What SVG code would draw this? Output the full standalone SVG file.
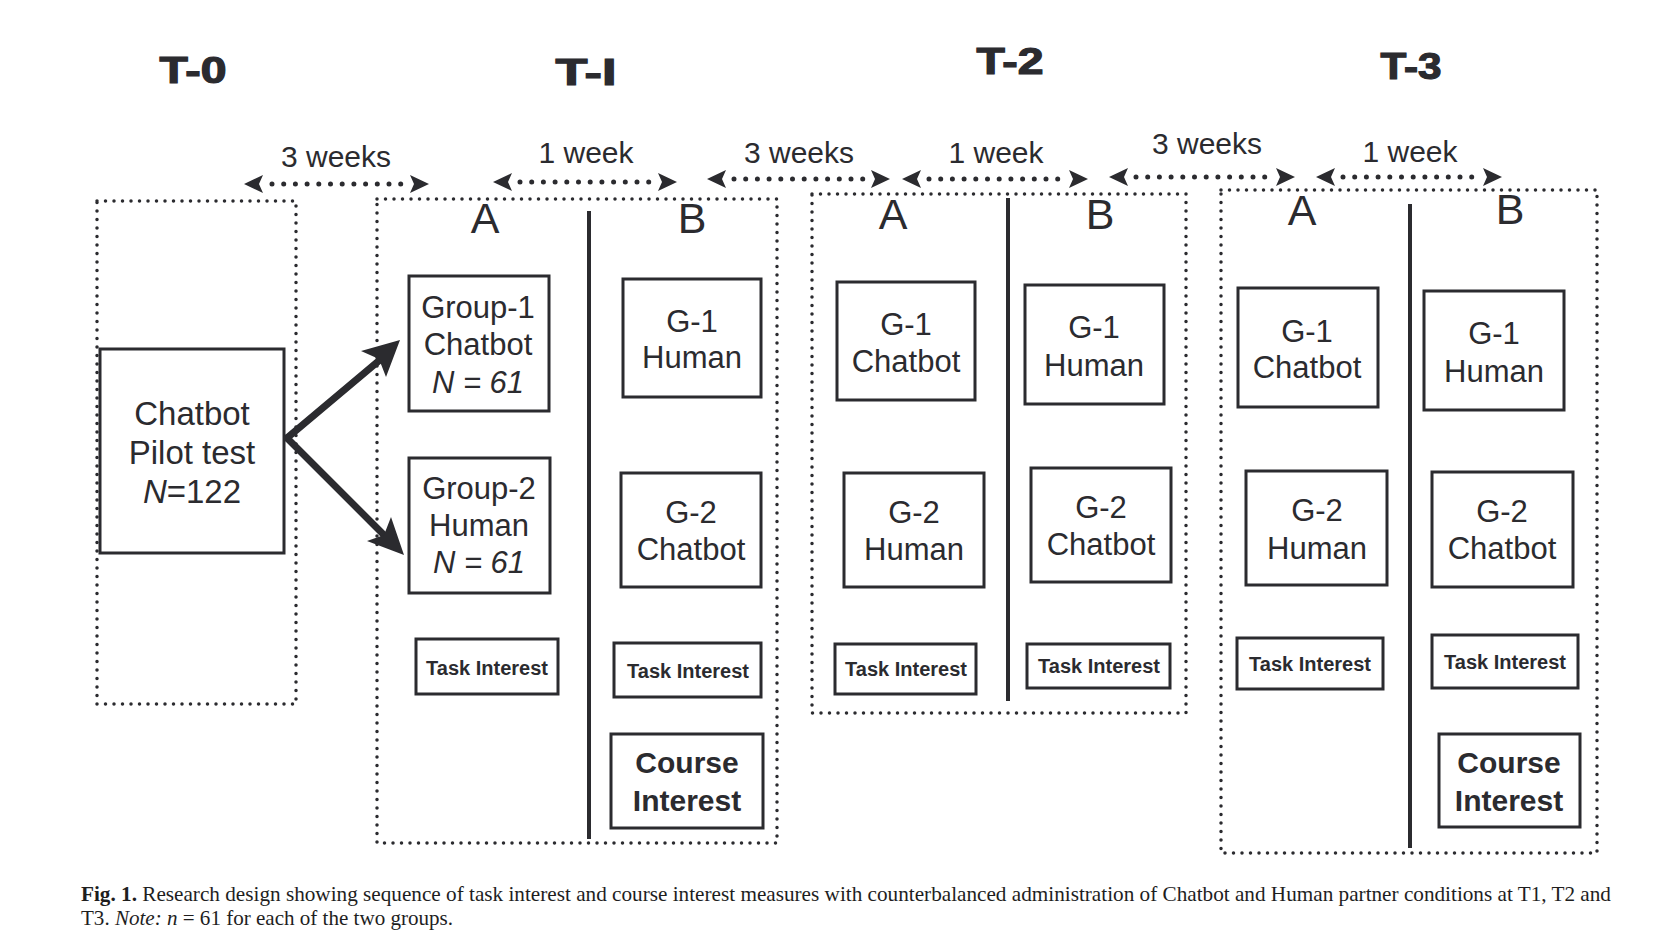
<svg xmlns="http://www.w3.org/2000/svg" xmlns:xlink="http://www.w3.org/1999/xlink" width="1666" height="932" viewBox="0 0 1666 932">
<style>
.box{fill:#fff;stroke:#2b2b2f;stroke-width:3}
.phase{fill:none;stroke:#2b2b2f;stroke-width:3.5;stroke-dasharray:0 8.5;stroke-linecap:round}
.dv{stroke:#2b2b2f;stroke-width:4}
.t{font-family:"Liberation Sans",Arial,sans-serif;fill:#2b2b2f;text-anchor:middle}
.lbl{font-size:31px}
.plt{font-size:33px}
.hdr{font-size:36px;font-weight:bold;stroke:#2b2b2f;stroke-width:1.2}
.ab{font-size:43px}
.wk{font-size:30px}
.ti{font-size:20px;font-weight:bold}
.ci{font-size:30px;font-weight:bold}
.dots{fill:none;stroke:#2b2b2f;stroke-width:5;stroke-dasharray:0 11.7;stroke-linecap:round}
.ah{fill:#2b2b2f}
.big{stroke:#2b2b2f;stroke-width:7;stroke-linecap:round;fill:none}
.cap{font-family:"Liberation Serif","Times New Roman",serif;font-size:21px;fill:#1e1e1e}
</style>
<defs>
<path id="hl" d="M0,0 L19,-9 L15,0 L19,9 Z"/>
<path id="hr" d="M0,0 L-19,-9 L-15,0 L-19,9 Z"/>
</defs>
<rect width="1666" height="932" fill="#fff"/>

<g id="headers">
<text class="t hdr" x="193" y="83" textLength="67" lengthAdjust="spacingAndGlyphs">T-0</text>
<text class="t hdr" x="586" y="85" textLength="61" lengthAdjust="spacingAndGlyphs">T-I</text>
<text class="t hdr" x="1010" y="74" textLength="67" lengthAdjust="spacingAndGlyphs">T-2</text>
<text class="t hdr" x="1411" y="79" textLength="61" lengthAdjust="spacingAndGlyphs">T-3</text>
</g>

<g id="phase-T0"><rect class="phase" x="97" y="201" width="199" height="503"/></g>
<g id="phase-T1">
<rect class="phase" x="377" y="199" width="400" height="644"/>
<line class="dv" x1="589" y1="211" x2="589" y2="839"/>
<text class="t ab" x="485" y="233">A</text>
<text class="t ab" x="692" y="233">B</text>
</g>
<g id="phase-T2">
<rect class="phase" x="812" y="194" width="374" height="519"/>
<line class="dv" x1="1008" y1="198" x2="1008" y2="701"/>
<text class="t ab" x="893" y="229">A</text>
<text class="t ab" x="1100" y="229">B</text>
</g>
<g id="phase-T3">
<rect class="phase" x="1221" y="190" width="376" height="663"/>
<line class="dv" x1="1410" y1="204" x2="1410" y2="848"/>
<text class="t ab" x="1302" y="225">A</text>
<text class="t ab" x="1510" y="224">B</text>
</g>

<g id="pilot">
<rect class="box" x="100" y="349" width="184" height="204"/>
<text class="t plt" x="192" y="425">Chatbot</text>
<text class="t plt" x="192" y="464">Pilot test</text>
<text class="t plt" x="192" y="503"><tspan font-style="italic">N</tspan>=122</text>
</g>

<g id="t1-group1">
<rect class="box" x="409" y="276" width="140" height="135"/>
<text class="t lbl" x="478" y="318">Group-1</text>
<text class="t lbl" x="478" y="355">Chatbot</text>
<text class="t lbl" x="478" y="393" font-style="italic">N = 61</text>
</g>
<g id="t1-group2">
<rect class="box" x="409" y="458" width="141" height="135"/>
<text class="t lbl" x="479" y="499">Group-2</text>
<text class="t lbl" x="479" y="536">Human</text>
<text class="t lbl" x="479" y="573" font-style="italic">N = 61</text>
</g>
<g id="t1-b-g1">
<rect class="box" x="623" y="279" width="138" height="118"/>
<text class="t lbl" x="692" y="332">G-1</text>
<text class="t lbl" x="692" y="368">Human</text>
</g>
<g id="t1-b-g2">
<rect class="box" x="621" y="473" width="140" height="114"/>
<text class="t lbl" x="691" y="523">G-2</text>
<text class="t lbl" x="691" y="560">Chatbot</text>
</g>
<g id="t1-a-task">
<rect class="box" x="416" y="639" width="142" height="55"/>
<text class="t ti" x="487" y="675">Task Interest</text>
</g>
<g id="t1-b-task">
<rect class="box" x="614" y="643" width="147" height="54"/>
<text class="t ti" x="688" y="678">Task Interest</text>
</g>
<g id="t1-b-course">
<rect class="box" x="611" y="734" width="152" height="94"/>
<text class="t ci" x="687" y="773">Course</text>
<text class="t ci" x="687" y="811">Interest</text>
</g>

<g id="t2-a-g1">
<rect class="box" x="837" y="282" width="138" height="118"/>
<text class="t lbl" x="906" y="335">G-1</text>
<text class="t lbl" x="906" y="372">Chatbot</text>
</g>
<g id="t2-b-g1">
<rect class="box" x="1025" y="285" width="139" height="119"/>
<text class="t lbl" x="1094" y="338">G-1</text>
<text class="t lbl" x="1094" y="376">Human</text>
</g>
<g id="t2-a-g2">
<rect class="box" x="844" y="473" width="140" height="114"/>
<text class="t lbl" x="914" y="523">G-2</text>
<text class="t lbl" x="914" y="560">Human</text>
</g>
<g id="t2-b-g2">
<rect class="box" x="1031" y="468" width="140" height="114"/>
<text class="t lbl" x="1101" y="518">G-2</text>
<text class="t lbl" x="1101" y="555">Chatbot</text>
</g>
<g id="t2-a-task">
<rect class="box" x="835" y="644" width="141" height="50"/>
<text class="t ti" x="906" y="676">Task Interest</text>
</g>
<g id="t2-b-task">
<rect class="box" x="1027" y="644" width="143" height="44"/>
<text class="t ti" x="1099" y="673">Task Interest</text>
</g>

<g id="t3-a-g1">
<rect class="box" x="1238" y="288" width="140" height="119"/>
<text class="t lbl" x="1307" y="342">G-1</text>
<text class="t lbl" x="1307" y="378">Chatbot</text>
</g>
<g id="t3-b-g1">
<rect class="box" x="1424" y="291" width="140" height="119"/>
<text class="t lbl" x="1494" y="344">G-1</text>
<text class="t lbl" x="1494" y="382">Human</text>
</g>
<g id="t3-a-g2">
<rect class="box" x="1246" y="471" width="141" height="114"/>
<text class="t lbl" x="1317" y="521">G-2</text>
<text class="t lbl" x="1317" y="559">Human</text>
</g>
<g id="t3-b-g2">
<rect class="box" x="1432" y="472" width="141" height="115"/>
<text class="t lbl" x="1502" y="522">G-2</text>
<text class="t lbl" x="1502" y="559">Chatbot</text>
</g>
<g id="t3-a-task">
<rect class="box" x="1237" y="638" width="146" height="51"/>
<text class="t ti" x="1310" y="671">Task Interest</text>
</g>
<g id="t3-b-task">
<rect class="box" x="1432" y="635" width="146" height="53"/>
<text class="t ti" x="1505" y="669">Task Interest</text>
</g>
<g id="t3-b-course">
<rect class="box" x="1439" y="734" width="141" height="93"/>
<text class="t ci" x="1509" y="773">Course</text>
<text class="t ci" x="1509" y="811">Interest</text>
</g>

<g id="connectors">
<line class="big" x1="287" y1="438" x2="381" y2="359"/>
<polygon class="ah" points="400,340 386,377 379,359 361,351"/>
<line class="big" x1="287" y1="438" x2="384" y2="535"/>
<polygon class="ah" points="404,555 367,541 384,535 391,517"/>

<g id="gap1">
<use xlink:href="#hl" class="ah" x="244" y="184"/><use xlink:href="#hr" class="ah" x="429" y="184"/>
<line class="dots" x1="272" y1="184" x2="408" y2="184"/>
<text class="t wk" x="336" y="167">3 weeks</text>
</g>
<g id="gap2">
<use xlink:href="#hl" class="ah" x="493" y="182"/><use xlink:href="#hr" class="ah" x="677" y="182"/>
<line class="dots" x1="520" y1="182" x2="656" y2="182"/>
<text class="t wk" x="586" y="163">1 week</text>
</g>
<g id="gap3">
<use xlink:href="#hl" class="ah" x="707" y="179"/><use xlink:href="#hr" class="ah" x="890" y="179"/>
<line class="dots" x1="734" y1="179" x2="870" y2="179"/>
<text class="t wk" x="799" y="163">3 weeks</text>
</g>
<g id="gap4">
<use xlink:href="#hl" class="ah" x="902" y="179"/><use xlink:href="#hr" class="ah" x="1088" y="179"/>
<line class="dots" x1="929" y1="179" x2="1065" y2="179"/>
<text class="t wk" x="996" y="163">1 week</text>
</g>
<g id="gap5">
<use xlink:href="#hl" class="ah" x="1109" y="177"/><use xlink:href="#hr" class="ah" x="1295" y="177"/>
<line class="dots" x1="1136" y1="177" x2="1272" y2="177"/>
<text class="t wk" x="1207" y="154">3 weeks</text>
</g>
<g id="gap6">
<use xlink:href="#hl" class="ah" x="1316" y="177"/><use xlink:href="#hr" class="ah" x="1502" y="177"/>
<line class="dots" x1="1343" y1="177" x2="1479" y2="177"/>
<text class="t wk" x="1410" y="162">1 week</text>
</g>
</g>

<g id="caption">
<text class="cap" x="81" y="901" textLength="1530" lengthAdjust="spacingAndGlyphs"><tspan font-weight="bold">Fig. 1.</tspan>  Research design showing sequence of task interest and course interest measures with counterbalanced administration of Chatbot and Human partner conditions at T1, T2 and</text>
<text class="cap" x="81" y="925" textLength="372" lengthAdjust="spacingAndGlyphs">T3. <tspan font-style="italic">Note:</tspan> <tspan font-style="italic">n</tspan> = 61 for each of the two groups.</text>
</g>
</svg>
